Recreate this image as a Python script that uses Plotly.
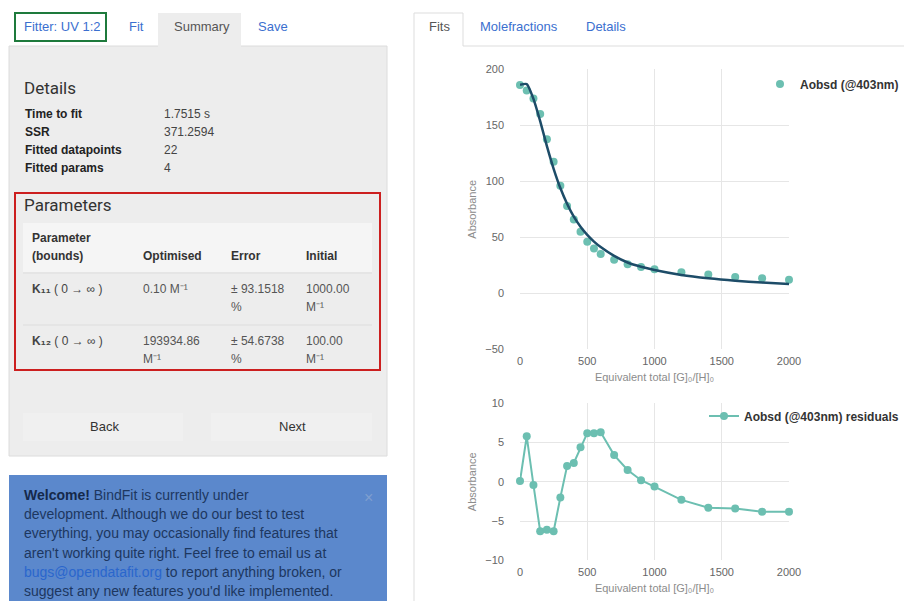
import plotly.graph_objects as go

# ---------------- data ----------------
x_equiv = [0, 50, 100, 150, 200, 250, 300, 350, 400, 450, 500, 550, 600,
           700, 800, 900, 1000, 1200, 1400, 1600, 1800, 2000]
a_obsd = [186, 181, 174, 160, 137.5, 117.5, 96, 78, 66, 55, 46, 40, 35,
          30, 26, 23.5, 21.4, 18.7, 16.7, 14.6, 13.4, 12.2]
a_fit = [186.1, 186.8, 173.6, 153.7, 131.4, 111.2, 94, 80, 68.4, 59.4, 52.2, 46.2, 41.3,
         33.4, 27.5, 23.7, 20.8, 16.4, 13.4, 11.2, 9.6, 8.4]
residuals = [0.1, 5.8, -0.4, -6.3, -6.1, -6.3, -2.0, 2.0, 2.4, 4.4, 6.2, 6.2, 6.3,
             3.4, 1.5, 0.2, -0.6, -2.3, -3.3, -3.4, -3.8, -3.8]

series_name = "Aobsd (@403nm)"
resid_name = "Aobsd (@403nm) residuals"
x_title = "Equivalent total [G]₀/[H]₀"
y_title = "Absorbance"
top_ticks = [-50, 0, 50, 100, 150, 200]
bot_ticks = [-10, -5, 0, 5, 10]
x_ticks = [0, 500, 1000, 1500, 2000]

detail_labels = ["Time to fit", "SSR", "Fitted datapoints", "Fitted params"]
detail_values = ["1.7515 s", "371.2594", "22", "4"]

left_tabs = ["Fitter: UV 1:2", "Fit", "Summary", "Save"]
right_tabs = ["Fits", "Molefractions", "Details"]

# ---------------- helpers ----------------
# The page body has an 8px margin; the figure is sized so the page is 912x609.
OFF = 8
W, H = 912 - 2 * OFF, 609 - 2 * OFF
BODY = "Liberation Sans, Arial, sans-serif"
HEAD = "Liberation Sans Narrow, Roboto, sans-serif"
shapes, annos = [], []


def px(x):
    return min(max((x - OFF) / W, 0), 1)


def py(y):
    return min(max(1 - (y - OFF) / H, 0), 1)


def rect(x0, y0, x1, y1, fill, line=None, lw=0):
    shapes.append(dict(type="rect", xref="paper", yref="paper", layer="below",
                       x0=px(x0), x1=px(x1), y0=py(y1), y1=py(y0),
                       fillcolor=fill, line=dict(color=line or fill, width=lw)))


def hline(x0, x1, y, color, lw=1):
    shapes.append(dict(type="line", xref="paper", yref="paper", layer="below",
                       x0=px(x0), x1=px(x1), y0=py(y), y1=py(y),
                       line=dict(color=color, width=lw)))


def vline(x, y0, y1, color, lw=1):
    shapes.append(dict(type="line", xref="paper", yref="paper", layer="below",
                       x0=px(x), x1=px(x), y0=py(y0), y1=py(y1),
                       line=dict(color=color, width=lw)))


def text(x, y, s, size=12, color="#333", anchor="left", family=BODY):
    annos.append(dict(xref="paper", yref="paper", x=px(x), y=py(y), text=s,
                      showarrow=False, xanchor=anchor, yanchor="middle",
                      borderpad=0, font=dict(size=size, color=color, family=family)))


LINK = "#3b6fcf"

# ---------------- left panel ----------------
rect(9, 46, 387, 456, "#ededed", "#dcdcdc", 1)
rect(158, 13, 241, 47, "#ededed")
rect(15, 13, 106, 41, "rgba(0,0,0,0)", "#1e7a3c", 2)
text(23, 27, left_tabs[0], 13, LINK)
text(128, 27, left_tabs[1], 13, LINK)
text(173, 27, left_tabs[2], 13, "#555")
text(257, 27, left_tabs[3], 13, LINK)

text(23, 88, "Details", 17, "#333", family=HEAD)
for i, (lab, val) in enumerate(zip(detail_labels, detail_values)):
    yy = 114 + 18 * i
    text(24, yy, "<b>" + lab + "</b>", 12, "#222")
    text(163, yy, val, 12, "#444")

rect(15, 193, 380, 370, "rgba(0,0,0,0)", "#cc1f1f", 2)
text(23, 205, "Parameters", 17, "#333", family=HEAD)
rect(23, 223, 372, 272, "#f5f5f5")
text(31, 238, "<b>Parameter</b>", 12, "#333")
text(31, 256, "<b>(bounds)</b>", 12, "#333")
text(142, 256, "<b>Optimised</b>", 12, "#333")
text(230, 256, "<b>Error</b>", 12, "#333")
text(305, 256, "<b>Initial</b>", 12, "#333")
hline(23, 372, 273, "#dddddd", 1)
hline(23, 372, 325, "#dddddd", 1)

rows = [
    ("K₁₁", "0.10 M⁻¹", "", "± 93.1518", "1000.00"),
    ("K₁₂", "193934.86", "M⁻¹", "± 54.6738", "100.00"),
]
for i, (k, opt, opt2, err, ini) in enumerate(rows):
    yy = 289 + 52 * i
    text(31, yy, "<b>" + k + "</b> ( 0 → ∞ )", 12, "#444")
    text(142, yy, opt, 12, "#555")
    if opt2:
        text(142, yy + 18, opt2, 12, "#555")
    text(230, yy, err, 12, "#555")
    text(230, yy + 18, "%", 12, "#555")
    text(305, yy, ini, 12, "#555")
    text(305, yy + 18, "M⁻¹", 12, "#555")

rect(23, 413, 183, 441, "#f0f0f0")
rect(211, 413, 372, 441, "#f0f0f0")
text(104, 426, "Back", 13, "#333", anchor="center")
text(292, 426, "Next", 13, "#333", anchor="center")

# alert box
rect(9, 475, 387, 609, "#5b88cc", "#5b88cc", 0)
NAVY = "#1d3760"
alert_lines = [
    "<b style='color:#15294a'>Welcome!</b> BindFit is currently under",
    "development. Although we do our best to test",
    "everything, you may occasionally find features that",
    "aren't working quite right. Feel free to email us at",
    "<span style='color:#2a66cc'>bugs@opendatafit.org</span> to report anything broken, or",
    "suggest any new features you'd like implemented.",
]
for i, ln in enumerate(alert_lines):
    text(23, 495 + 19.2 * i, ln, 14, NAVY)
text(368, 497, "×", 16, "#7f9fd0", anchor="center")

# ---------------- right tabs ----------------
vline(414, 13, 609, "#dddddd")
hline(414, 463, 13, "#dddddd")
vline(463, 13, 46, "#dddddd")
hline(463, 912, 46, "#dddddd")
text(428, 27, right_tabs[0], 13, "#555")
text(479, 27, right_tabs[1], 13, LINK)
text(585, 27, right_tabs[2], 13, LINK)

# ---------------- charts ----------------
TEAL = "#6cbfb1"
DARK = "#1d4c68"

fig = go.Figure()
fig.add_trace(go.Scatter(x=x_equiv, y=a_obsd, mode="markers", name=series_name,
                         marker=dict(color=TEAL, size=8), cliponaxis=False,
                         xaxis="x", yaxis="y", legend="legend"))
fig.add_trace(go.Scatter(x=x_equiv, y=a_fit, mode="lines", name="fit", showlegend=False,
                         line=dict(color=DARK, width=2.5, shape="spline", smoothing=0.6),
                         cliponaxis=False, xaxis="x", yaxis="y"))
fig.add_trace(go.Scatter(x=x_equiv, y=residuals, mode="lines+markers", name=resid_name,
                         marker=dict(color=TEAL, size=8), line=dict(color=TEAL, width=2),
                         cliponaxis=False, xaxis="x2", yaxis="y2", legend="legend2"))

tickfont = dict(family=BODY, size=11, color="#666")
titlefont = dict(family=BODY, size=11, color="#8c8c8c")
axcommon = dict(showgrid=True, gridcolor="#e6e6e6", gridwidth=1, zeroline=False,
                showline=False, ticks="", tickfont=tickfont, automargin=False)

fig.update_layout(
    width=W, height=H, margin=dict(l=0, r=0, t=0, b=0, autoexpand=False),
    paper_bgcolor="white", plot_bgcolor="white",
    shapes=shapes, annotations=annos,
    xaxis=dict(domain=[px(520), px(789)], range=[0, 2000], tickvals=x_ticks,
               anchor="y", title=dict(text=x_title, font=titlefont, standoff=7),
               ticklabelstandoff=4, **axcommon),
    yaxis=dict(domain=[py(349.3), py(69.3)], range=[-50, 200], tickvals=top_ticks,
               anchor="x", title=dict(text=y_title, font=titlefont, standoff=6),
               ticklabelstandoff=15, **axcommon),
    xaxis2=dict(domain=[px(520), px(789)], range=[0, 2000], tickvals=x_ticks,
                anchor="y2", title=dict(text=x_title, font=titlefont, standoff=7),
                ticklabelstandoff=4, **axcommon),
    yaxis2=dict(domain=[py(560.3), py(403.3)], range=[-10, 10], tickvals=bot_ticks,
                anchor="x2", title=dict(text=y_title, font=titlefont, standoff=6),
                ticklabelstandoff=15, **axcommon),
    legend=dict(x=1, y=py(84), xanchor="right", yanchor="middle",
                bgcolor="rgba(0,0,0,0)",
                font=dict(family=BODY, size=12, color="#333", weight="bold")),
    legend2=dict(x=1, y=py(416), xanchor="right", yanchor="middle",
                 bgcolor="rgba(0,0,0,0)",
                 font=dict(family=BODY, size=12, color="#333", weight="bold")),
    showlegend=True,
)

fig.write_html("out.html", config={"displayModeBar": False})
